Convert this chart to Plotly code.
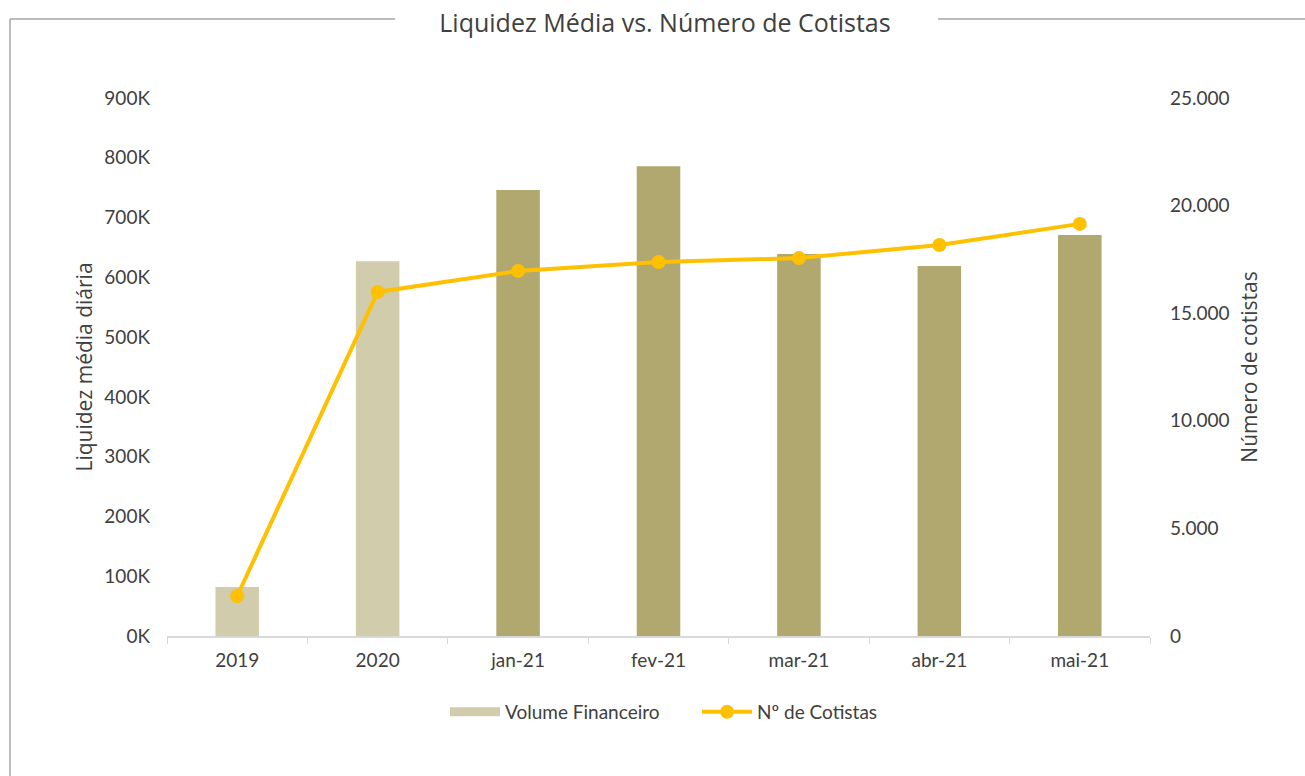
import plotly.graph_objects as go

categories = ["2019", "2020", "jan-21", "fev-21", "mar-21", "abr-21", "mai-21"]
volume = [82000, 627000, 746000, 786000, 639000, 619000, 671000]
cotistas = [1860, 15990, 16960, 17380, 17560, 18170, 19150]
bar_colors = ["#D1CCAB", "#D1CCAB", "#B1A86F", "#B1A86F", "#B1A86F", "#B1A86F", "#B1A86F"]
left_ticks = [0, 100000, 200000, 300000, 400000, 500000, 600000, 700000, 800000, 900000]
left_ticktext = [f"{v // 1000}K" for v in left_ticks]
right_ticks = [0, 5000, 10000, 15000, 20000, 25000]

W, H = 1305, 776
OFF = 0  # page body margin removed via post_script
# plot area in page pixel coordinates
L, R, T, B = 167, 1150, 98, 636

def px(x):
    return (x - L) / (R - L)

def py(y):
    return (B - y) / (B - T)

font_main = "Lato, 'Open Sans', sans-serif"
txt = "#404040"

fig = go.Figure()
fig.add_trace(go.Bar(
    x=categories, y=volume, name="Volume Financeiro",
    marker=dict(color=bar_colors, line=dict(width=0)),
    width=0.31, yaxis="y", showlegend=False,
))
# legend entry for the bars (wide swatch, as in the reference)
fig.add_trace(go.Scatter(
    x=[None], y=[None], name="Volume Financeiro", mode="lines",
    line=dict(color=bar_colors[0], width=9), yaxis="y", showlegend=True,
))
fig.add_trace(go.Scatter(
    x=categories, y=cotistas, name="Nº de Cotistas", yaxis="y2",
    mode="lines+markers",
    line=dict(color="#FFC000", width=4),
    marker=dict(color="#FFC000", size=14),
))

gray = "#A6A6A6"
shapes = [
    dict(type="line", xref="paper", yref="paper", x0=px(10), x1=px(395), y0=py(19), y1=py(19),
         line=dict(color=gray, width=1.5)),
    dict(type="line", xref="paper", yref="paper", x0=px(938), x1=px(1320), y0=py(19), y1=py(19),
         line=dict(color=gray, width=1.5)),
    dict(type="line", xref="paper", yref="paper", x0=px(10), x1=px(10), y0=py(19), y1=py(800),
         line=dict(color=gray, width=1.5)),
]

fig.update_layout(
    width=W, height=H,
    margin=dict(l=L - OFF, r=W - R + OFF, t=T - OFF, b=H - B + OFF, pad=0),
    paper_bgcolor="white", plot_bgcolor="white",
    separators=",.",
    font=dict(family=font_main, size=19, color=txt),
    title=dict(text="Liquidez Média vs. Número de Cotistas", x=(665 - OFF) / W, xanchor="center",
               y=1 - (23 - OFF) / H, yanchor="middle",
               font=dict(family="'Open Sans', sans-serif", size=25, color=txt)),
    showlegend=True,
    legend=dict(orientation="h", x=px(697), xanchor="center", y=py(712), yanchor="middle",
                font=dict(size=19, color=txt), itemwidth=50, tracegroupgap=0,
                entrywidth=187, entrywidthmode="pixels"),
    xaxis=dict(type="category", showgrid=False, showline=True, linecolor="#D9D9D9", linewidth=1.5,
               ticks="outside", tickson="boundaries", ticklen=6, tickcolor="#D9D9D9",
               ticklabelstandoff=6,
               tickfont=dict(size=19, color=txt), range=[-0.5, 6.5]),
    yaxis=dict(range=[0, 900000], tickvals=left_ticks, ticktext=left_ticktext, showgrid=False,
               zeroline=False, showline=False, ticklabelstandoff=16,
               title=dict(text="Liquidez média diária",
                          font=dict(family="'Open Sans', sans-serif", size=21, color=txt), standoff=5),
               tickfont=dict(size=19, color=txt)),
    yaxis2=dict(range=[0, 25000], tickvals=right_ticks, tickformat=",d", overlaying="y", side="right",
                showgrid=False, zeroline=False, showline=False, ticklabelstandoff=19,
                title=dict(text="Número de cotistas",
                           font=dict(family="'Open Sans', sans-serif", size=21, color=txt), standoff=13),
                tickfont=dict(size=19, color=txt)),
    shapes=shapes,
)

fig.write_html("out.html", config={"displayModeBar": False},
               post_script="document.body.style.margin='0';")
